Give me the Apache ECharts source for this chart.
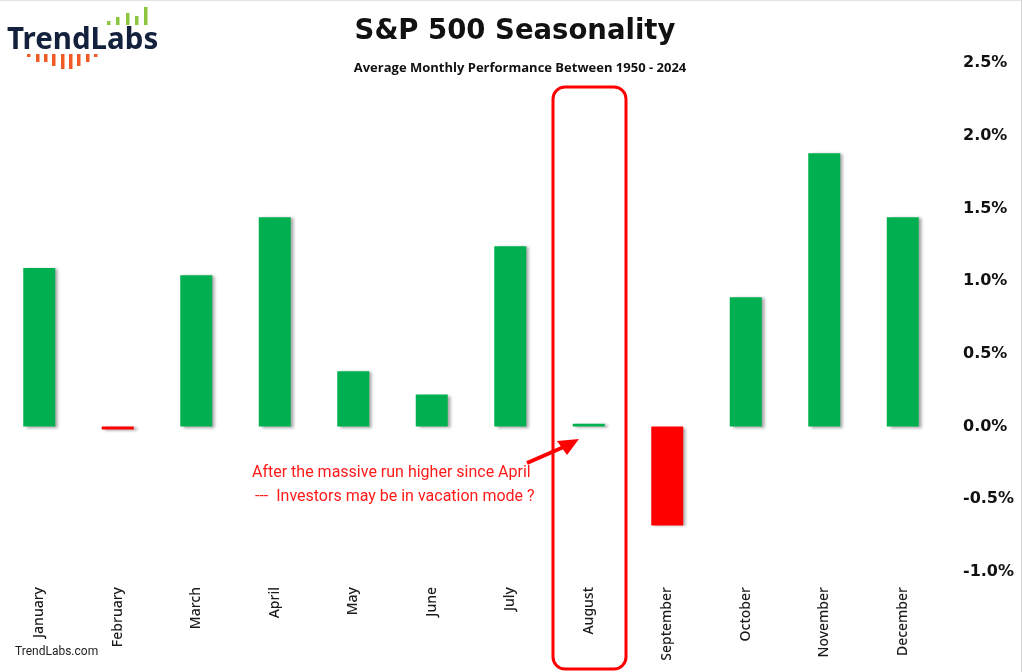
<!DOCTYPE html>
<html>
<head>
<meta charset="utf-8">
<script src="https://cdn.jsdelivr.net/npm/echarts@6/dist/echarts.min.js"></script>
<style>html,body{margin:0;padding:0;background:#fff}#c{width:1022px;height:672px}</style>
</head>
<body>
<div id="c"></div>
<script>
const months = ['January','February','March','April','May','June','July','August','September','October','November','December'];
const avgReturn = [1.09, -0.02, 1.04, 1.44, 0.38, 0.22, 1.24, 0.02, -0.68, 0.89, 1.88, 1.44];
const yMin = -1.0, yMax = 2.5, yStep = 0.5;
const titleText = 'S&P 500 Seasonality';
const subtitleText = 'Average Monthly Performance Between 1950 - 2024';
const noteLines = ['After the massive run higher since April', '---  Investors may be in vacation mode ?'];

const chart = echarts.init(document.getElementById('c'));

const logoBarsGreen = [[107,21],[116,17],[126,13],[135,16],[144,7]];
const logoDashes = [[27,3],[36,8],[44,8],[52,12],[61,15],[69,15],[77,12],[86,8],[94,3]];
const graphics = [];
logoBarsGreen.forEach(([x,y]) => graphics.push({type:'rect', shape:{x:x, y:y, width:3.5, height:25-y}, style:{fill:'#8cc63f'}}));
logoDashes.forEach(([x,h]) => graphics.push({type:'rect', shape:{x:x, y:54, width:3.5, height:h}, style:{fill:'#f15a24'}}));
graphics.push(
  {type:'text', x:7, y:26, style:{text:'TrendLabs', font:'bold 29.5px "Noto Sans"', fill:'#14213d', textVerticalAlign:'top'}},
  {type:'text', x:15, y:646, style:{text:'TrendLabs.com', font:'12px Roboto', fill:'#222'}},
  {type:'rect', shape:{x:553, y:87, width:73, height:582, r:12}, style:{fill:'none', stroke:'#ff0000', lineWidth:3}},
  {type:'text', x:252, y:465, style:{text:noteLines[0], font:'16px Roboto', fill:'#ff1a1a'}},
  {type:'text', x:255, y:489, style:{text:noteLines[1], font:'16px Roboto', fill:'#ff1a1a'}},
  {type:'line', shape:{x1:527, y1:463, x2:566, y2:446}, style:{stroke:'#ff0000', lineWidth:4}},
  {type:'polygon', shape:{points:[[579,439],[557,441],[567,455]]}, style:{fill:'#ff0000'}},
  {type:'line', shape:{x1:0, y1:0.5, x2:1022, y2:0.5}, style:{stroke:'#e4e4e4', lineWidth:1}},
  {type:'line', shape:{x1:1021.5, y1:0, x2:1021.5, y2:672}, style:{stroke:'#d8d8d8', lineWidth:1}}
);

chart.setOption({
  backgroundColor:'#ffffff',
  animation:false,
  title:[
    {text:titleText, left:510, top:13, textAlign:'center', textStyle:{fontFamily:'"DejaVu Sans"', fontWeight:'bold', fontSize:27.5, color:'#111'}},
    {text:subtitleText, left:515, top:57, textAlign:'center', textStyle:{fontFamily:'"Open Sans"', fontWeight:'bold', fontSize:13, color:'#111'}}
  ],
  grid:{left:-1, width:943, top:63, height:509},
  xAxis:{
    type:'category', data:months,
    axisLine:{show:false, onZero:false}, axisTick:{show:false},
    axisLabel:{rotate:90, margin:15, fontFamily:'"Noto Sans"', fontWeight:500, fontSize:14, color:'#1a1a1a', interval:0}
  },
  yAxis:{
    type:'value', position:'right', min:yMin, max:yMax, interval:yStep,
    splitLine:{show:false}, axisLine:{show:false}, axisTick:{show:false},
    axisLabel:{margin:21, align:'left', fontFamily:'"DejaVu Sans"', fontWeight:'bold', fontSize:16, color:'#111',
      formatter:v => v.toFixed(1) + '%'}
  },
  series:[{
    type:'bar', data:avgReturn, barWidth:32,
    itemStyle:{
      color:p => p.value >= 0 ? '#00b050' : '#ff0000',
      shadowColor:'rgba(0,0,0,0.35)', shadowBlur:3, shadowOffsetX:3, shadowOffsetY:1
    }
  }],
  graphic:graphics
});
</script>
</body>
</html>
